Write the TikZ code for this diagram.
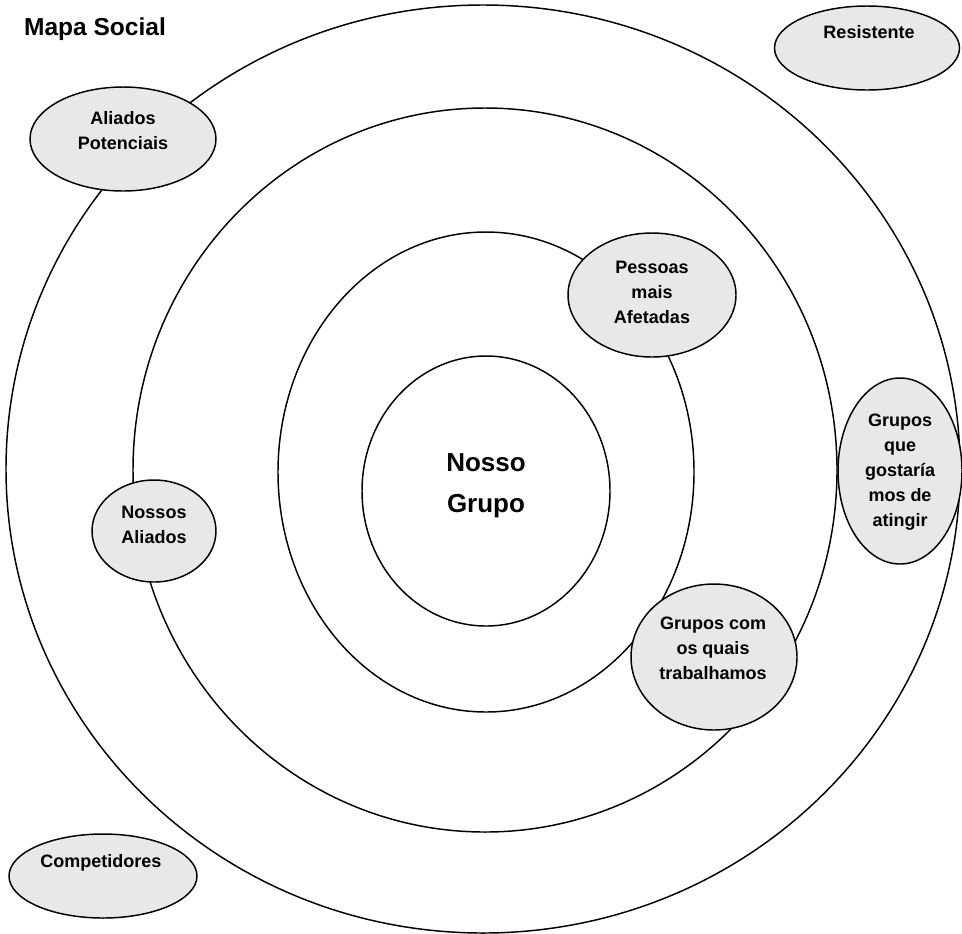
\documentclass[tikz,border=0pt]{standalone}
\usepackage{fontspec}
\setmainfont{Liberation Sans}
\usetikzlibrary{shapes.geometric}
\definecolor{blobfill}{RGB}{232,232,232}
\begin{document}
\begin{tikzpicture}[x=0.75pt,y=-0.75pt,
  ring/.style={draw=black,line width=1.1pt,ellipse,inner sep=0pt},
  blob/.style={draw=black,line width=1.1pt,ellipse,fill=blobfill,inner sep=0pt},
  lbl/.style={font=\fontsize{13.5pt}{18.75pt}\selectfont\bfseries,align=center,inner sep=0pt},
  core/.style={font=\fontsize{19.5pt}{30.75pt}\selectfont\bfseries,align=center,inner sep=0pt},
  heading/.style={font=\fontsize{18.4pt}{22pt}\selectfont\bfseries,inner sep=0pt}]
\useasboundingbox (0,0) rectangle (962,933);
\fill[white] (0,0) rectangle (962,933);

% concentric rings
\node[ring,minimum width=715.5pt,minimum height=696pt] (outer) at (483,469) {};
\node[ring,minimum width=528pt,minimum height=543pt] (second) at (485,470) {};
\node[ring,minimum width=312pt,minimum height=360pt] (third) at (486,472) {};
\node[ring,minimum width=186pt,minimum height=202.5pt] (inner) at (486,491) {};

% title
\node[heading] (title) at (95,29) {Mapa Social};

% centre label
\node[core] (nosso) at (486,486) {Nosso\\Grupo};

% stakeholder groups
\node[blob,minimum width=138.75pt,minimum height=63pt] (res) at (867,48) {};
\node[lbl] (resT) at (869,32) {Resistente};

\node[blob,minimum width=139.5pt,minimum height=78pt] (alp) at (123,139) {};
\node[lbl] (alpT) at (123,131) {Aliados\\Potenciais};

\node[blob,minimum width=126pt,minimum height=93pt] (pma) at (652,295) {};
\node[lbl] (pmaT) at (652,292) {Pessoas\\mais\\Afetadas};

\node[blob,minimum width=93pt,minimum height=139.5pt] (gqg) at (900,471) {};
\node[lbl] (gqgT) at (900,472) {Grupos\\que\\gostaría\\mos de\\atingir};

\node[blob,minimum width=124.5pt,minimum height=109.5pt] (gct) at (714,657) {};
\node[lbl] (gctT) at (713,648) {Grupos com\\os quais\\trabalhamos};

\node[blob,minimum width=93pt,minimum height=76.5pt] (nal) at (154,531) {};
\node[lbl] (nalT) at (154,525) {Nossos\\Aliados};

\node[blob,minimum width=141pt,minimum height=63pt] (cmp) at (103,876) {};
\node[lbl] (cmpT) at (101,863) {Competidores};
\end{tikzpicture}
\end{document}
